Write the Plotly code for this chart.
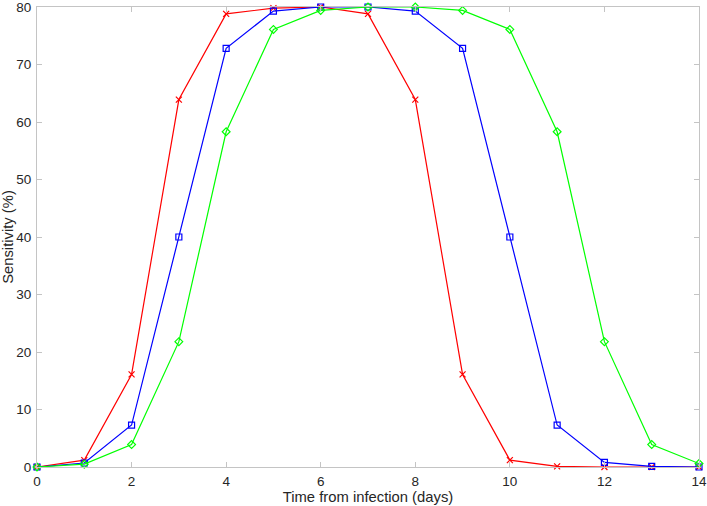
import plotly.graph_objects as go

days = list(range(15))

# red, crosses
sens_red = [0, 1.2, 16.1, 63.9, 78.8, 79.8, 80, 78.8, 63.9, 16.1, 1.2, 0.1, 0, 0, 0]
# blue, squares
sens_blue = [0, 0.7, 7.3, 40, 72.8, 79.3, 80, 80, 79.3, 72.8, 40, 7.3, 0.8, 0.1, 0]
# green, diamonds
sens_green = [0, 0.5, 3.9, 21.8, 58.3, 76.1, 79.4, 80, 80, 79.4, 76.1, 58.3, 21.8, 3.9, 0.6]

x_ticks = [0, 2, 4, 6, 8, 10, 12, 14]
y_ticks = [0, 10, 20, 30, 40, 50, 60, 70, 80]

AXIS = "#c4c4c4"
TEXT = "#262626"

fig = go.Figure()

series = [
    (sens_red, "#ff0000", "x-thin-open"),
    (sens_blue, "#0000ff", "square-open"),
    (sens_green, "#00ff00", "diamond-open"),
]
for ys, color, sym in series:
    fig.add_trace(go.Scatter(
        x=days, y=ys, mode="lines+markers",
        line=dict(color=color, width=1.2),
        marker=dict(symbol=sym, size=6, color=color, line=dict(color=color, width=1.2)),
        cliponaxis=False,
    ))

axis_common = dict(
    showgrid=False, zeroline=False, showline=True, mirror="ticks",
    linecolor=AXIS, linewidth=1, ticks="inside", ticklen=5, tickcolor=AXIS,
    tickfont=dict(size=13.5, color=TEXT), automargin=False,
    ticklabeloverflow="allow",
)

fig.update_layout(
    width=707, height=506,
    paper_bgcolor="white", plot_bgcolor="white",
    font=dict(family="Liberation Sans, Arial, Helvetica, sans-serif", size=14, color=TEXT),
    margin=dict(l=37, r=8, t=7, b=39),
    showlegend=False,
    hovermode=False,
)
fig.update_xaxes(range=[0, 14], tickvals=x_ticks, ticklabelstandoff=2,
                 title=dict(text="Time from infection (days)", standoff=0,
                            font=dict(size=14.8, color=TEXT)),
                 **axis_common)
fig.update_yaxes(range=[0, 80], tickvals=y_ticks, ticklabelstandoff=2,
                 title=dict(text="Sensitivity (%)", standoff=0,
                            font=dict(size=14.8, color=TEXT)),
                 **axis_common)

# page body has a default 8px margin; drop it so the figure sits at the corner
fig.write_html("out.html", config={"displayModeBar": False},
               post_script="document.body.style.margin='0';")
